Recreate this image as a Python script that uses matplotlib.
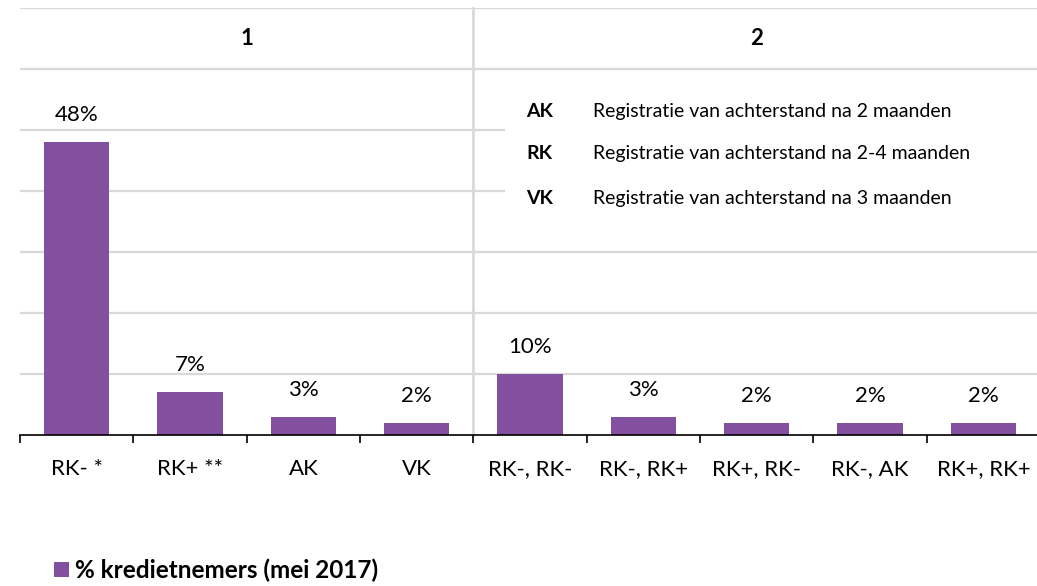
import matplotlib
matplotlib.use("Agg")
import matplotlib.pyplot as plt
from matplotlib.patches import Rectangle, Patch

plt.rcParams['font.family'] = ['Lato', 'DejaVu Sans']

categories = ["RK- *", "RK+ **", "AK", "VK", "RK-, RK-", "RK-, RK+", "RK+, RK-", "RK-, AK", "RK+, RK+"]
values = [48, 7, 3, 2, 10, 3, 2, 2, 2]
value_labels = ["48%", "7%", "3%", "2%", "10%", "3%", "2%", "2%", "2%"]
group_names = ["1", "2"]
group_sizes = [4, 5]
series_name = "% kredietnemers (mei 2017)"
defs_abbr = ["AK", "RK", "VK"]
defs_text = ["Registratie van achterstand na 2 maanden",
             "Registratie van achterstand na 2-4 maanden",
             "Registratie van achterstand na 3 maanden"]

W, H = 1037, 586
fig = plt.figure(figsize=(W / 100, H / 100), dpi=100)
left_px, right_px, base_px, top_px = 20, 1040, 435, 8
ax = fig.add_axes([left_px / W, (H - base_px) / H, (right_px - left_px) / W, (base_px - top_px) / H])

bar_color = "#8350A0"
grid_color = "#D9D9D9"
n = len(categories)
x = list(range(n))
ax.set_xlim(-0.5, n - 0.5)
ax.set_ylim(0, 70)

for s in ["top", "right", "left"]:
    ax.spines[s].set_visible(False)
ax.spines["bottom"].set_color("black")
ax.spines["bottom"].set_linewidth(1.2)
ax.spines["bottom"].set_zorder(5)

# gridlines
for gy in range(10, 71, 10):
    ax.axhline(gy, color=grid_color, lw=1.6, zorder=0)

# group separator
sep = group_sizes[0] - 0.5
ax.plot([sep, sep], [0, 70], color=grid_color, lw=2, zorder=0, clip_on=False)

bars = ax.bar(x, values, width=0.575, color=bar_color, zorder=3)
for xi, v, lab in zip(x, values, value_labels):
    ax.annotate(lab, (xi, v), xytext=(0, 19.5), textcoords="offset points",
                ha="center", va="center", fontsize=16, color="#000000")

# ticks
ax.set_yticks([])
ax.set_xticks(x)
ax.set_xticklabels(categories, fontsize=16)
ax.tick_params(axis="x", which="major", length=0, pad=17)
ax.set_xticks([i - 0.5 for i in range(n + 1)], minor=True)
ax.tick_params(axis="x", which="minor", length=5.5, width=1.2, color="black", direction="out")

# group headers
start = 0
for name, size in zip(group_names, group_sizes):
    ax.text(start + (size - 1) / 2, 65, name, ha="center", va="center",
            fontsize=16, fontweight="bold")
    start += size

# definitions box
ax.add_patch(Rectangle((3.78, 31.5), 6, 26.5, facecolor="white", edgecolor="none", zorder=1))
rows_y = [53.1, 46.1, 38.7]
for ab, tx, yy in zip(defs_abbr, defs_text, rows_y):
    ax.text(3.97, yy, ab, ha="left", va="center", fontsize=14, fontweight="bold", zorder=4)
    ax.text(4.56, yy, tx, ha="left", va="center", fontsize=14, zorder=4)

fig.legend(handles=[Patch(facecolor=bar_color, edgecolor="none")], labels=[series_name],
           loc="center left", bbox_to_anchor=(54 / W, (H - 570) / H), frameon=False,
           prop={"size": 17.5, "weight": "bold"}, handlelength=0.62, handleheight=0.58,
           handletextpad=0.25, borderaxespad=0, borderpad=0)

fig.savefig("out.png", dpi=100, facecolor="white")
